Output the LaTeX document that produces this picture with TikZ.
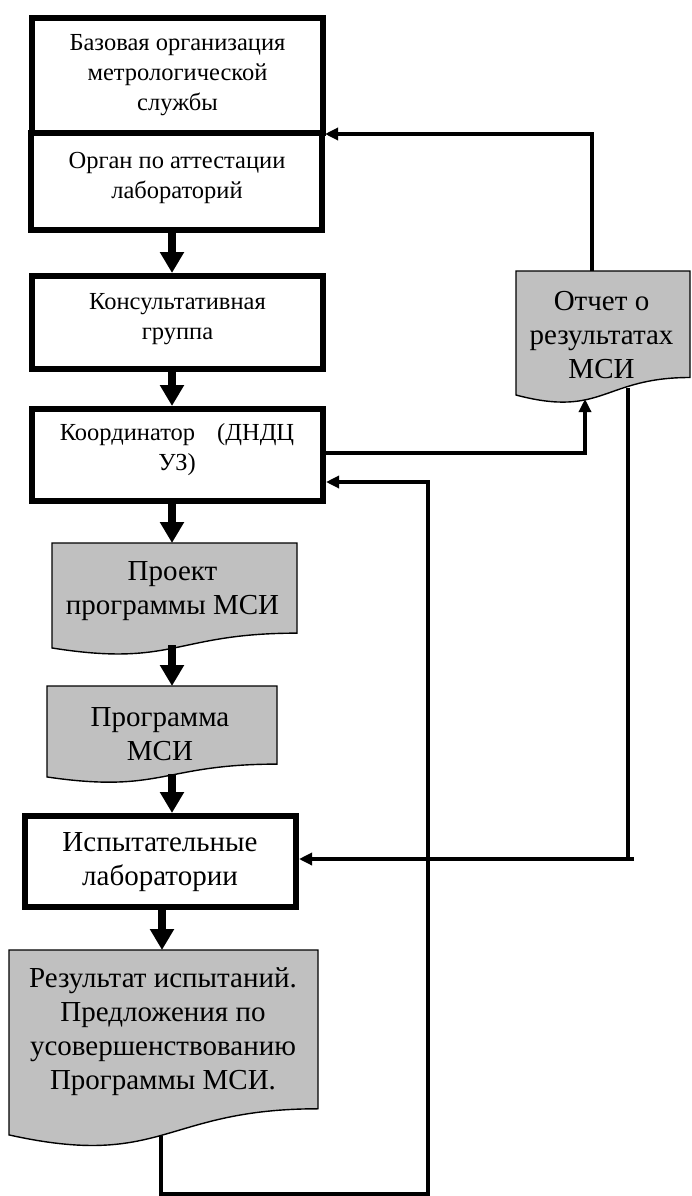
\documentclass[tikz,border=0pt]{standalone}
\usepackage{fontspec}
\setmainfont{Liberation Serif}
\usetikzlibrary{arrows.meta,calc}
\definecolor{docgray}{RGB}{192,192,192}
\tikzset{
  stbox/.style={draw, line width=6pt, rectangle, inner sep=0pt},
  docbox/.style={rectangle, inner sep=0pt, outer sep=0pt},
  docfill/.style={fill=docgray, draw=black, line width=1.4pt},
  smalltxt/.style={align=center, font=\fontsize{24.5}{30}\selectfont, inner sep=0pt},
  bigtxt/.style={align=center, font=\fontsize{29}{34}\selectfont, inner sep=0pt},
  thickarr/.style={line width=8pt, -{Triangle[length=21pt,width=23pt]}},
  thinln/.style={line width=3.2pt},
  thinarr/.style={line width=3.2pt, -{Triangle[length=13pt,width=12pt]}},
}
\newcommand\docwave[1]{%
  \path[docfill] (#1.north west) -- (#1.north east)
    -- ($(#1.north east)!0.80194!(#1.south east)$)
    .. controls ($(#1.north)!0.80194!(#1.south)$) and ($(#1.north)!1.1075!(#1.south)$)
    .. ($(#1.north west)!0.93389!(#1.south west)$) -- cycle;}
\begin{document}
\begin{tikzpicture}[x=1pt,y=-1pt]
\useasboundingbox (0,0) rectangle (692,1196);
% boxes
\node[stbox, minimum width=291pt, minimum height=115pt] (b1) at (177.5,75.5) {};
\node[stbox, minimum width=291pt, minimum height=97pt] (b2) at (176.5,181.5) {};
\node[stbox, minimum width=291pt, minimum height=93pt] (b3) at (177.5,322.5) {};
\node[stbox, minimum width=291pt, minimum height=92pt] (b4) at (177.5,455) {};
\node[stbox, minimum width=271pt, minimum height=91pt] (b5) at (160.5,861.5) {};
% documents
\node[docbox, minimum width=245pt, minimum height=112.4pt] (d1) at (174.5,599.2) {};
\docwave{d1}
\node[docbox, minimum width=230pt, minimum height=97.4pt] (d2) at (162,734.7) {};
\docwave{d2}
\node[docbox, minimum width=309pt, minimum height=198pt] (d3) at (163.5,1049) {};
\docwave{d3}
\node[docbox, minimum width=174pt, minimum height=132.8pt] (d4) at (603,337.4) {};
\docwave{d4}
% helper coordinates
\coordinate (ax) at (172,0);
\coordinate (bx) at (162,0);
\coordinate (d1out) at (172,645);
\coordinate (d2out) at (172,774);
\coordinate (cA) at (592,134);
\coordinate (cB) at (585,453);
\coordinate (d4in) at (585,399);
\coordinate (d4out) at (628,388);
\coordinate (cC) at (628,859);
\coordinate (cD) at (634,859);
\coordinate (d3out) at (161,1136);
\coordinate (cE) at (161,1194);
\coordinate (cF) at (428,1194);
\coordinate (cG) at (428,482);
% thick arrows
\draw[thickarr] (b2.south -| ax) -- (b3.north -| ax);
\draw[thickarr] (b3.south -| ax) -- (b4.north -| ax);
\draw[thickarr] (b4.south -| ax) -- (d1.north -| ax);
\draw[thickarr] (d1out) -- (d2.north -| ax);
\draw[thickarr] (d2out) -- (b5.north -| ax);
\draw[thickarr] (b5.south -| bx) -- (d3.north -| bx);
% thin connectors
\draw[thinarr] (d4.north -| cA) -- (cA) -- (b2.east |- cA);
\draw[thinarr] (b4.east |- cB) -- (cB) -- (d4in);
\draw[thinln] (d4out) -- (cC);
\draw[thinarr] (cD) -- (b5.east |- cD);
\draw[thinarr] (d3out) -- (cE) -- (cF) -- (cG) -- (b4.east |- cG);
% texts
\node[smalltxt] (t1) at (177.5,75) {Базовая организация\\метрологической\\службы};
\node[smalltxt] (t2) at (177,178) {Орган по аттестации\\лабораторий};
\node[smalltxt] (t3) at (177.5,319) {Консультативная\\группа};
\node[smalltxt] (t4) at (177,450) {Координатор\hspace{0.9em}(ДНДЦ\\УЗ)};
\node[bigtxt] (t5) at (160,862) {Испытательные\\лаборатории};
\node[bigtxt] (td1) at (172.5,591) {Проект\\программы МСИ};
\node[bigtxt] (td2) at (160,734) {Программа\\МСИ};
\node[bigtxt] (td3) at (163,1032) {Результат испытаний.\\Предложения по\\усовершенствованию\\Программы МСИ.};
\node[bigtxt] (td4) at (601.5,335) {Отчет о\\результатах\\МСИ};
\end{tikzpicture}
\end{document}
